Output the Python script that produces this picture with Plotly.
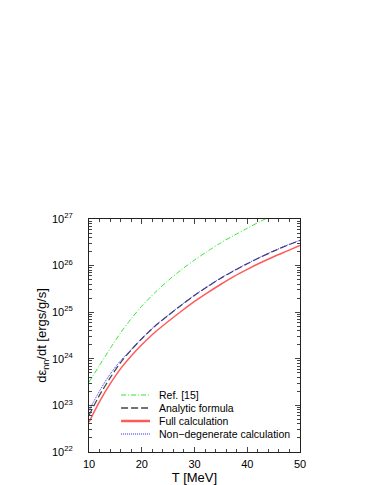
import plotly.graph_objects as go

# Temperature grid [MeV]
T = [10, 12, 14, 16, 18, 20, 22.5, 25, 27.5, 30, 32.5, 35, 37.5, 40, 42.5, 45, 47.5, 50]

# log10 of d(eps_nn)/dt [ergs/g/s]
ref15_log = [23.50, 23.86, 24.22, 24.56, 24.86, 25.13, 25.42, 25.68, 25.91, 26.12, 26.31,
             26.49, 26.65, 26.80, 26.95, 27.08, 27.20, 27.32]
analytic_log = [22.79, 23.22, 23.59, 23.92, 24.19, 24.43, 24.70, 24.93, 25.15, 25.36, 25.55,
                25.73, 25.89, 26.04, 26.18, 26.31, 26.43, 26.54]
full_log = [22.64, 23.08, 23.46, 23.79, 24.06, 24.30, 24.57, 24.80, 25.02, 25.23, 25.42,
            25.60, 25.77, 25.92, 26.06, 26.19, 26.31, 26.43]
nondeg_log = [22.89, 23.31, 23.67, 23.96, 24.20, 24.435, 24.705, 24.935, 25.155, 25.365, 25.555,
              25.735, 25.895, 26.045, 26.185, 26.315, 26.435, 26.545]

series_names = ["Ref. [15]", "Analytic formula", "Full calculation", "Non\u2212degenerate calculation"]
ytick_exp = [22, 23, 24, 25, 26, 27]
xtick_vals = [10, 20, 30, 40, 50]

def lin(v):
    return [10.0 ** x for x in v]

styles = [
    dict(color="#33e833", width=1, dash="5px,2px,1px,2px"),
    dict(color="#444444", width=1.2, dash="7px,3px"),
    dict(color="#ff5a5a", width=1.5, dash="solid"),
    dict(color="#2a2aff", width=1.0, dash="1px,1px"),
]
data = [ref15_log, analytic_log, full_log, nondeg_log]

fig = go.Figure()
for name, vals, st in zip(series_names, data, styles):
    fig.add_trace(go.Scatter(x=T, y=lin(vals), mode="lines", name=name,
                             line=dict(shape="spline", smoothing=0.8, **st)))

# manual compact legend (paper coordinates)
leg_x0, leg_x1, leg_tx = 0.152, 0.289, 0.322
leg_y = [0.2446, 0.1888, 0.1330, 0.0773]
shapes = []
annotations = []
for name, st, yy in zip(series_names, styles, leg_y):
    shapes.append(dict(type="line", xref="paper", yref="paper",
                       x0=leg_x0, x1=leg_x1, y0=yy, y1=yy,
                       line=dict(color=st["color"], width=st["width"] + (1.0 if st["dash"] == "solid" else 0.2),
                                 dash=st["dash"])))
    annotations.append(dict(xref="paper", yref="paper", x=leg_tx, y=yy,
                            xanchor="left", yanchor="middle", showarrow=False,
                            text=name, font=dict(size=10.5, color="black")))

font = dict(family="Liberation Sans, Arial, sans-serif", size=11, color="black")

fig.update_layout(
    width=374, height=485, autosize=False,
    margin=dict(l=81, r=82, t=211, b=41),
    paper_bgcolor="white", plot_bgcolor="white",
    font=font,
    showlegend=False,
    shapes=shapes,
    annotations=annotations,
    xaxis=dict(range=[10, 50], tickvals=xtick_vals, ticks="inside", ticklen=5,
               showline=True, linecolor="#222222", linewidth=1, mirror="ticks",
               showgrid=False, zeroline=False, ticklabelstandoff=2,
               minor=dict(ticks="inside", ticklen=3, dtick=2, showgrid=False),
               title=dict(text="T [MeV]", standoff=2)),
    yaxis=dict(type="log", range=[22, 27],
               tickvals=[10.0 ** e for e in ytick_exp],
               ticktext=["10<sup>%d</sup>" % e for e in ytick_exp],
               ticks="inside", ticklen=5, ticklabelstandoff=13,
               showline=True, linecolor="#222222", linewidth=1, mirror="ticks",
               showgrid=False, zeroline=False,
               minor=dict(ticks="inside", ticklen=3, dtick="D1", showgrid=False),
               title=dict(text="d\u03b5<sub>nn</sub>/dt [ergs/g/s]", standoff=2)),
)

fig.write_html("out.html")
